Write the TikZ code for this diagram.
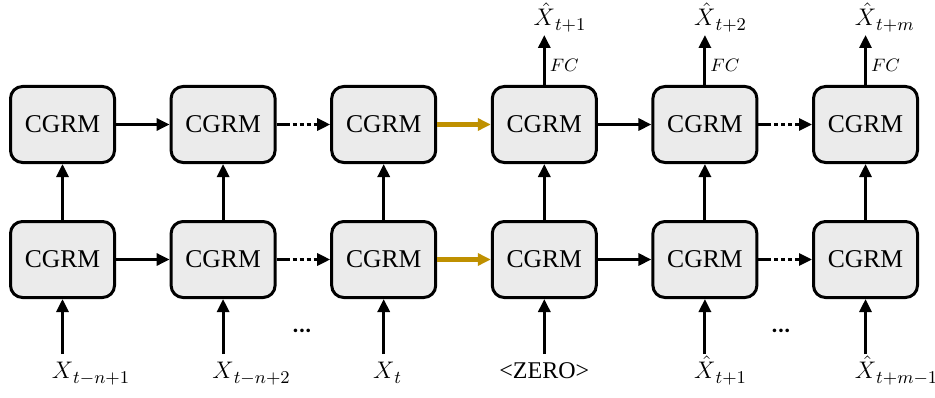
\documentclass[tikz,border=0pt]{standalone}
\usepackage{fontspec}
\setmainfont{Liberation Serif}
\newfontfamily\DotsFont{Carlito}
\usetikzlibrary{positioning,arrows.meta}
\definecolor{ArrowGold}{RGB}{191,144,0}
\definecolor{CellGray}{RGB}{235,235,235}
\newcommand{\SubLabel}[2]{$#1$\rlap{\raisebox{-2.5pt}{\fontsize{9}{11}\selectfont$#2$}}}

\begin{document}
\begin{tikzpicture}[x=0.5pt,y=0.5pt,
		cell/.style={draw, line width=1.5pt, fill=CellGray, rounded corners=6pt, minimum width=52pt, minimum height=38pt, inner sep=0pt, font=\fontsize{12.8}{15}\selectfont},
		link/.style={-{Triangle[length=6.5pt,width=6pt]}, line width=1.5pt},
		dotlink/.style={link, dash pattern=on 6.5pt off 1.5pt on 2pt off 1.5pt on 2pt off 1.5pt on 2pt off 1.5pt on 20pt},
		goldlink/.style={link, draw=ArrowGold, line width=2.25pt},
		inlabel/.style={inner sep=2pt, text height=2.2ex, text depth=1ex, font=\large},
		outlabel/.style={inner sep=1pt, font=\large},
		fclabel/.style={right, pos=0.4, inner sep=2pt, font=\small},
		gap/.style={font=\DotsFont\bfseries\large}]
			\pgfmathsetmacro{\FirstColumn}{62.5}
			\pgfmathsetmacro{\BottomRow}{137.5}
			\pgfmathsetmacro{\ColumnGap}{26.8}
			\pgfmathsetmacro{\RowGap}{28}
			\pgfmathsetmacro{\InputGap}{27.5}
			\pgfmathsetmacro{\OutputGap}{25}
			\useasboundingbox (0,0) rectangle (935,397);
			
			\node[cell] (b1) at (\FirstColumn,\BottomRow) {CGRM};
			\node[cell, right=\ColumnGap pt of b1] (b2) {CGRM};
			\node[cell, right=\ColumnGap pt of b2] (b3) {CGRM};
			\node[cell, right=\ColumnGap pt of b3] (b4) {CGRM};
			\node[cell, right=\ColumnGap pt of b4] (b5) {CGRM};
			\node[cell, right=\ColumnGap pt of b5] (b6) {CGRM};
			
			\node[cell, above=\RowGap pt of b1] (t1) {CGRM};
			\node[cell, above=\RowGap pt of b2] (t2) {CGRM};
			\node[cell, above=\RowGap pt of b3] (t3) {CGRM};
			\node[cell, above=\RowGap pt of b4] (t4) {CGRM};
			\node[cell, above=\RowGap pt of b5] (t5) {CGRM};
			\node[cell, above=\RowGap pt of b6] (t6) {CGRM};
			
			\node[inlabel, below=\InputGap pt of b1] (in1) {\SubLabel{X}{t{-}n{+}1}};
			\node[inlabel, below=\InputGap pt of b2] (in2) {\SubLabel{X}{t{-}n{+}2}};
			\node[inlabel, below=\InputGap pt of b3] (in3) {\SubLabel{X}{t}};
			\node[inlabel, below=\InputGap pt of b4] (in4) {<ZERO>};
			\node[inlabel, below=\InputGap pt of b5] (in5) {\SubLabel{\hat{X}}{t{+}1}};
			\node[inlabel, below=\InputGap pt of b6] (in6) {\SubLabel{\hat{X}}{t{+}m{-}1}};
			
			\node[outlabel, above=\OutputGap pt of t4] (out4) {\SubLabel{\hat{X}}{t{+}1}};
			\node[outlabel, above=\OutputGap pt of t5] (out5) {\SubLabel{\hat{X}}{t{+}2}};
			\node[outlabel, above=\OutputGap pt of t6] (out6) {\SubLabel{\hat{X}}{t{+}m}};
			
			\node[gap] (skip1) at (302,66) {...};
			\node[gap] (skip2) at (781,66) {...};
			
			\draw[link] (in1) -- (b1);
			\draw[link] (in2) -- (b2);
			\draw[link] (in3) -- (b3);
			\draw[link] (in4) -- (b4);
			\draw[link] (in5) -- (b5);
			\draw[link] (in6) -- (b6);
			
			\draw[link] (b1) -- (t1);
			\draw[link] (b2) -- (t2);
			\draw[link] (b3) -- (t3);
			\draw[link] (b4) -- (t4);
			\draw[link] (b5) -- (t5);
			\draw[link] (b6) -- (t6);
			
			\draw[link] (b1) -- (b2);
			\draw[dotlink] (b2) -- (b3);
			\draw[goldlink] (b3) -- (b4);
			\draw[link] (b4) -- (b5);
			\draw[dotlink] (b5) -- (b6);
			
			\draw[link] (t1) -- (t2);
			\draw[dotlink] (t2) -- (t3);
			\draw[goldlink] (t3) -- (t4);
			\draw[link] (t4) -- (t5);
			\draw[dotlink] (t5) -- (t6);
			
			\draw[link] (t4) -- (out4) node[fclabel] {$FC$};
			\draw[link] (t5) -- (out5) node[fclabel] {$FC$};
			\draw[link] (t6) -- (out6) node[fclabel] {$FC$};
\end{tikzpicture}
\end{document}
